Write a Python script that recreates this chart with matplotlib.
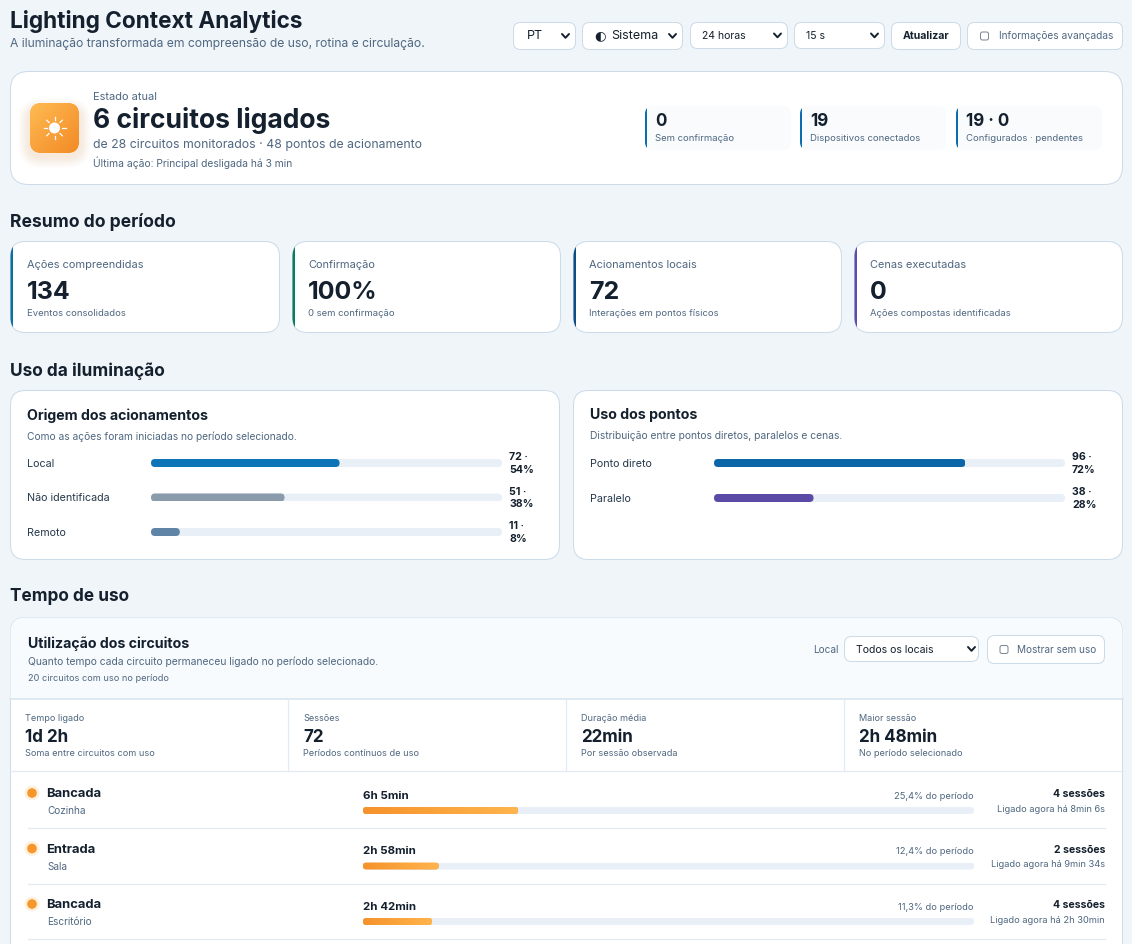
import numpy as np
import matplotlib
matplotlib.use("Agg")
import matplotlib.pyplot as plt
from matplotlib.patches import FancyBboxPatch, Rectangle, Circle
from matplotlib.colors import LinearSegmentedColormap
from matplotlib.transforms import IdentityTransform

# ---------- data ----------
select_labels = ["PT", "Sistema", "24 horas", "15 s"]
hero_stat_values = ["0", "19", "19 · 0"]
hero_stat_labels = ["Sem confirmação", "Dispositivos conectados", "Configurados · pendentes"]

kpi_labels = ["Ações compreendidas", "Confirmação", "Acionamentos locais", "Cenas executadas"]
kpi_values = ["134", "100%", "72", "0"]
kpi_subs = ["Eventos consolidados", "0 sem confirmação", "Interações em pontos físicos", "Ações compostas identificadas"]

origin_labels = ["Local", "Não identificada", "Remoto"]
origin_counts = [72, 51, 11]
origin_pct = [54, 38, 8]

points_labels = ["Ponto direto", "Paralelo"]
points_counts = [96, 38]
points_pct = [72, 28]

use_stat_labels = ["Tempo ligado", "Sessões", "Duração média", "Maior sessão"]
use_stat_values = ["1d 2h", "72", "22min", "2h 48min"]
use_stat_subs = ["Soma entre circuitos com uso", "Períodos contínuos de uso", "Por sessão observada", "No período selecionado"]

circuit_names = ["Bancada", "Entrada", "Bancada"]
circuit_rooms = ["Cozinha", "Sala", "Escritório"]
circuit_times = ["6h 5min", "2h 58min", "2h 42min"]
circuit_share = [25.4, 12.4, 11.3]
circuit_sessions = ["4 sessões", "2 sessões", "4 sessões"]
circuit_status = ["Ligado agora há 8min 6s", "Ligado agora há 9min 34s", "Ligado agora há 2h 30min"]

# ---------- palette ----------
BG = "#f0f5fa"; BORDER = "#cbdbe9"; INK = "#14202e"; MUTED = "#4f6780"; TRACK = "#e9eff6"
W, H = 1132, 944
plt.rcParams["font.family"] = ["Inter", "DejaVu Sans"]

fig = plt.figure(figsize=(W / 100, H / 100), dpi=100, facecolor=BG)
bgax = fig.add_axes([0, 0, 1, 1])
bgax.set_xlim(0, W); bgax.set_ylim(H, 0); bgax.axis("off")


def T(x, y, s, px, color=INK, weight="normal", ha="left", va="center", **kw):
    return bgax.text(x, y + 0.8, s, fontsize=px * 0.72, color=color, fontweight=weight, ha=ha, va=va, zorder=5, **kw)


def box(x0, y0, x1, y1, r, fc="white", ec=BORDER, lw=1.0, z=1, alpha=None):
    if ec != "none":
        x0, y0, x1, y1 = x0 + 0.5, y0 + 0.5, x1 - 0.5, y1 - 0.5
    p = FancyBboxPatch((x0 + r, y0 + r), x1 - x0 - 2 * r, y1 - y0 - 2 * r,
                       boxstyle=f"round,pad={r},rounding_size={r}", fc=fc, ec=ec, lw=lw * 0.72,
                       zorder=z, alpha=alpha)
    bgax.add_patch(p)
    return p


def chevron(cx, cy, c=INK):
    bgax.plot([cx - 3.5, cx, cx + 3.5], [cy - 2, cy + 1.8, cy - 2], color=c, lw=1.4, zorder=4,
              solid_capstyle="round", solid_joinstyle="round")


def checkbox(x, y):
    box(x, y - 4.5, x + 9, y + 4.5, 2, fc="white", ec="#7b8794", lw=1, z=4)


def round_bar(ax, bar, fig_r):
    """Round a bar's ends by clipping it to a rounded box of its own extents."""
    (x0, y0), (x1, y1) = ax.transData.transform([(bar.get_x(), bar.get_y()),
                                                  (bar.get_x() + bar.get_width(), bar.get_y() + bar.get_height())])
    y0, y1 = min(y0, y1), max(y0, y1)
    clip = FancyBboxPatch((x0 + fig_r, y0 + fig_r), x1 - x0 - 2 * fig_r, y1 - y0 - 2 * fig_r,
                          boxstyle=f"round,pad={fig_r},rounding_size={fig_r}",
                          transform=IdentityTransform())
    return clip


def bar_group(px_x, px_y0, px_w, step, n, bar_h, vals, scale, colors, gradient=None):
    ax = fig.add_axes([px_x / W, 1 - (px_y0 + step * (n - 0.5)) / H, px_w / W, step * n / H])
    ax.axis("off"); ax.patch.set_alpha(0)
    ax.set_xlim(0, scale); ax.set_ylim(n - 0.5, -0.5)
    rows = np.arange(n)
    hh = bar_h / step
    tracks = ax.barh(rows, [scale] * n, height=hh, color=TRACK, zorder=1)
    bars = ax.barh(rows, vals, height=hh, color=colors, zorder=2)
    for b in list(tracks) + list(bars):
        b.set_clip_path(round_bar(ax, b, bar_h / 2))
    if gradient is not None:
        grad = np.linspace(0, 1, 128).reshape(1, -1)
        for b in bars:
            im = ax.imshow(grad, extent=(b.get_x(), b.get_x() + b.get_width(),
                                         b.get_y() + b.get_height(), b.get_y()),
                           aspect="auto", cmap=gradient, zorder=3)
            im.set_clip_path(round_bar(ax, b, bar_h / 2))
        ax.set_xlim(0, scale); ax.set_ylim(n - 0.5, -0.5)
    return ax


# ---------- header ----------
T(10, 21, "Lighting Context Analytics", 22.6, weight="bold")
T(10, 43.5, "A iluminação transformada em compreensão de uso, rotina e circulação.", 12.15, MUTED)

sel_boxes = [(513, 22, 576, 50), (582, 22, 683, 50), (690, 22, 788, 49), (794, 22, 885, 49)]
for (x0, y0, x1, y1), lab in zip(sel_boxes, select_labels):
    box(x0, y0, x1, y1, 7)
    chevron(x1 - 10.5, (y0 + y1) / 2)
T(527, 35, select_labels[0], 12.5)
bgax.text(594, 35.5, "◐", fontsize=9.5, color=INK, ha="left", va="center", family="DejaVu Sans", zorder=5)
T(611, 35, select_labels[1], 12.5)
T(702, 35.5, select_labels[2], 10.5)
T(806, 35.5, select_labels[3], 10.5)
box(891, 22, 961, 50, 7)
T(926, 35.5, "Atualizar", 10.5, weight="bold", ha="center")
box(967, 22, 1123, 50, 7)
checkbox(980, 36)
T(999, 35.5, "Informações avançadas", 10.15, MUTED)

# ---------- hero card ----------
box(10, 71, 1123, 185, 18)
for k in range(12, 0, -1):
    box(30 - k, 110 - k, 79 + k, 153 + k + 3, 12 + k, fc="#f7962b", ec="none", z=1.5, alpha=0.012)
icon = box(30, 103, 79, 153, 12, fc="#f7962b", ec="none", z=2)
igrad = np.add.outer(np.linspace(0, 1, 64), np.linspace(0, 1, 64)) / 2
icmap = LinearSegmentedColormap.from_list("ic", ["#ffbb52", "#f28a26"])
iim = bgax.imshow(igrad, extent=(30, 79, 153, 103), cmap=icmap, aspect="auto", zorder=2.1)
iim.set_clip_path(icon)
bgax.set_xlim(0, W); bgax.set_ylim(H, 0)
bgax.add_patch(Circle((54.5, 128), 5.5, fc="white", ec="none", zorder=3))
for ang in np.arange(0, 360, 45):
    c, s = np.cos(np.radians(ang)), np.sin(np.radians(ang))
    bgax.plot([54.5 + 7.8 * c, 54.5 + 11 * c], [128 + 7.8 * s, 128 + 11 * s], color="white", lw=0.9, zorder=3)

T(93, 96, "Estado atual", 11, MUTED)
T(93, 120, "6 circuitos ligados", 26.5, weight="bold")
T(93, 144, "de 28 circuitos monitorados · 48 pontos de acionamento", 12.25, MUTED)
T(93, 161.5, "Última ação: Principal desligada há 3 min", 10.35, MUTED)

for x0, val, lab in zip([645, 800, 956], hero_stat_values, hero_stat_labels):
    p = box(x0, 106, x0 + 146, 150, 8, fc="#f9fbfd", ec="none", z=1.5)
    stripe = Rectangle((x0, 106), 2, 44, fc="#0b6cb0", ec="none", zorder=2)
    bgax.add_patch(stripe); stripe.set_clip_path(p)
    T(x0 + 10, 120.5, val, 17, weight="bold")
    T(x0 + 10, 137.5, lab, 9.5, MUTED)

# ---------- summary ----------
T(10, 221, "Resumo do período", 17.5, weight="bold")
kpi_x = [(10, 280), (292, 561), (573, 842), (854, 1123)]
kpi_text_x = [27, 308, 589, 870]
kpi_colors = ["#0b6fa4", "#0a7d5a", "#0f4c81", "#5f4bad"]
for (x0, x1), tx, c, lab, val, sub in zip(kpi_x, kpi_text_x, kpi_colors, kpi_labels, kpi_values, kpi_subs):
    p = box(x0, 241, x1, 333, 15)
    s = Rectangle((x0, 241), 3, 92, fc=c, ec="none", zorder=2)
    bgax.add_patch(s); s.set_clip_path(p)
    T(tx, 264, lab, 11, MUTED)
    T(tx, 292, val, 25, weight="bold")
    T(tx, 312.5, sub, 9.5, MUTED)

# ---------- usage ----------
T(10, 370, "Uso da iluminação", 17.3, weight="bold")
box(10, 390, 560, 560, 15)
box(573, 390, 1123, 560, 15)
T(27, 414.5, "Origem dos acionamentos", 14.2, weight="bold")
T(27, 435.5, "Como as ações foram iniciadas no período selecionado.", 10.2, MUTED)
T(590, 414.5, "Uso dos pontos", 14.2, weight="bold")
T(590, 435.5, "Distribuição entre pontos diretos, paralelos e cenas.", 10.3, MUTED)

bar_group(151, 463, 351, 34.5, 3, 8, origin_counts, sum(origin_counts), ["#0e74b8", "#8a9bab", "#5f84a6"])
for i, (lab, n, pc) in enumerate(zip(origin_labels, origin_counts, origin_pct)):
    y = 463 + 34.5 * i
    T(27, y, lab, 10.7, "#26384a")
    T(509, y - 6.5, f"{n} ·", 10.6, weight="bold")
    T(509, y + 6, f"{pc}%", 10.6, weight="bold")

bar_group(714, 463, 351, 35, 2, 8, points_counts, sum(points_counts), ["#0b66a8", "#5b4ba6"])
for i, (lab, n, pc) in enumerate(zip(points_labels, points_counts, points_pct)):
    y = 463 + 35 * i
    T(590, y, lab, 10.7, "#26384a")
    T(1072, y - 6.5, f"{n} ·", 10.6, weight="bold")
    T(1072, y + 6, f"{pc}%", 10.6, weight="bold")

# ---------- time of use ----------
T(10, 596, "Tempo de uso", 17.2, weight="bold")
panel = box(10, 617, 1123, 1000, 15)
hdr = Rectangle((10, 617), 1113, 82, fc="#f8fbfe", ec="none", zorder=1.2)
bgax.add_patch(hdr); hdr.set_clip_path(panel)
bgax.plot([10, 1123], [699, 699], color="#dbe7f0", lw=1.3, zorder=2)
T(28, 642.5, "Utilização dos circuitos", 14.2, weight="bold")
T(28, 660.5, "Quanto tempo cada circuito permaneceu ligado no período selecionado.", 10.3, MUTED)
T(28, 677.5, "20 circuitos com uso no período", 9.15, MUTED)
T(813, 649, "Local", 10, MUTED)
box(844, 636, 979, 662, 7, z=3)
chevron(971.5, 649)
T(856, 649, "Todos os locais", 10.5)
box(987, 635, 1105, 664, 7, z=3)
checkbox(999.5, 649.5)
T(1017, 649, "Mostrar sem uso", 10, MUTED)

for x in [288, 566, 844]:
    bgax.plot([x, x], [699, 770], color="#e2ebf3", lw=0.9, zorder=2)
bgax.plot([10, 1123], [770.5, 770.5], color="#e2ebf3", lw=0.9, zorder=2)
for x, lab, val, sub in zip([25, 303, 581, 859], use_stat_labels, use_stat_values, use_stat_subs):
    T(x, 717.5, lab, 9.1, MUTED)
    T(x, 737, val, 17, weight="bold")
    T(x, 752.5, sub, 9.15, MUTED)

orange = LinearSegmentedColormap.from_list("o", ["#f6922b", "#ffb54d"])
ax_use = bar_group(363, 810.5, 611, 55.5, 3, 7, circuit_share, 100, ["#f6922b"] * 3, gradient=orange)

for i in range(3):
    dy = 55.5 * i
    bgax.add_patch(Circle((32, 793 + dy), 7.5, fc="#fff1de", ec="none", zorder=2))
    bgax.add_patch(Circle((32, 793 + dy), 4.8, fc="#f7962b", ec="none", zorder=3))
    T(46.5, 793.5 + dy, circuit_names[i], 13, weight="bold")
    T(47, 810.5 + dy, circuit_rooms[i], 10, MUTED)
    T(363, 795 + dy, circuit_times[i], 11.5, weight="bold")
    T(974, 795.5 + dy, f"{circuit_share[i]:.1f}".replace(".", ",") + "% do período", 9.3, MUTED, ha="right")
    T(1105, 793.5 + dy, circuit_sessions[i], 10.5, weight="bold", ha="right")
    T(1105, 808.5 + dy, circuit_status[i], 9.3, MUTED, ha="right")
    bgax.plot([28, 1105], [828 + dy, 828 + dy], color="#e2ebf3", lw=0.9, zorder=2)

fig.savefig("out.png", dpi=100, facecolor=BG)
